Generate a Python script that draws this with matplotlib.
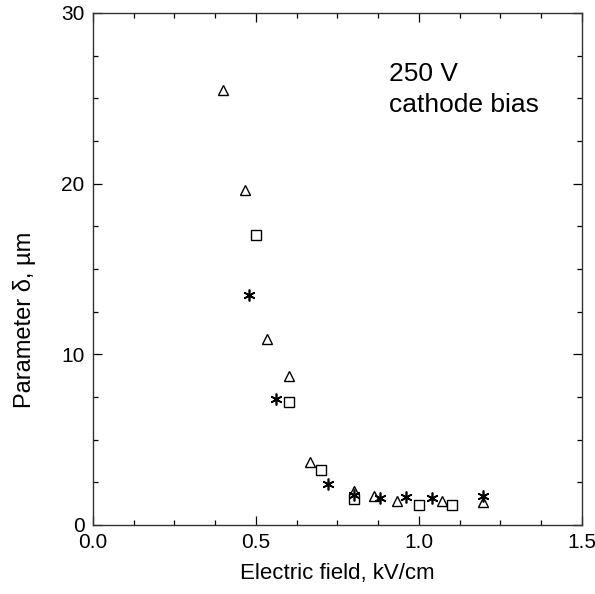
import matplotlib
matplotlib.use("Agg")
import matplotlib.pyplot as plt
from matplotlib.ticker import MultipleLocator

plt.rcParams["font.family"] = ["Liberation Sans", "DejaVu Sans"]

# Series (x in kV/cm, y in um)
tri_x = [0.40, 0.466, 0.535, 0.60, 0.666, 0.80, 0.863, 0.932, 1.07, 1.195]
tri_y = [25.5, 19.6, 10.9, 8.7, 3.7, 2.0, 1.7, 1.42, 1.42, 1.37]

sq_x = [0.50, 0.60, 0.70, 0.80, 1.00, 1.10]
sq_y = [17.0, 7.2, 3.2, 1.55, 1.17, 1.17]

star_x = [0.479, 0.561, 0.722, 0.80, 0.88, 0.96, 1.04, 1.195]
star_y = [13.5, 7.4, 2.4, 1.75, 1.6, 1.66, 1.56, 1.70]

x_ticks = [0.0, 0.5, 1.0, 1.5]
y_ticks = [0, 10, 20, 30]

fig = plt.figure(figsize=(5.95, 5.94), dpi=100)
ax = fig.add_axes([0.1563, 0.1162, 0.8218, 0.862])

ax.plot(tri_x, tri_y, linestyle="none", marker="^", markersize=7.5,
        markerfacecolor="white", markeredgecolor="black", markeredgewidth=1.0)
ax.plot(sq_x, sq_y, linestyle="none", marker="s", markersize=7,
        markerfacecolor="white", markeredgecolor="black", markeredgewidth=1.0)
ax.plot(star_x, star_y, linestyle="none", marker=(6, 2, 0), markersize=8.5,
        markeredgecolor="black", markeredgewidth=1.2)

ax.set_xlim(0, 1.5)
ax.set_ylim(0, 30)
ax.set_xticks(x_ticks)
ax.set_xticklabels([f"{v:.1f}" for v in x_ticks])
ax.set_yticks(y_ticks)
ax.xaxis.set_minor_locator(MultipleLocator(0.125))
ax.yaxis.set_minor_locator(MultipleLocator(2.5))

ax.tick_params(which="both", direction="in", top=True, right=True,
               width=0.9, colors="black")
ax.tick_params(which="major", length=6.5, labelsize=15, pad=6)
ax.tick_params(which="minor", length=3.5)
for side in ax.spines.values():
    side.set_linewidth(1.0)
    side.set_color("#333333")

ax.set_xlabel("Electric field, kV/cm", fontsize=16, labelpad=8)
ax.set_ylabel("Parameter δ, µm", fontsize=17)
ax.yaxis.set_label_coords(-0.117, 0.40)

ax.text(0.605, 0.905, "250 V\ncathode bias", transform=ax.transAxes,
        ha="left", va="top", fontsize=19, linespacing=1.4)

fig.savefig("out.png", dpi=100)
